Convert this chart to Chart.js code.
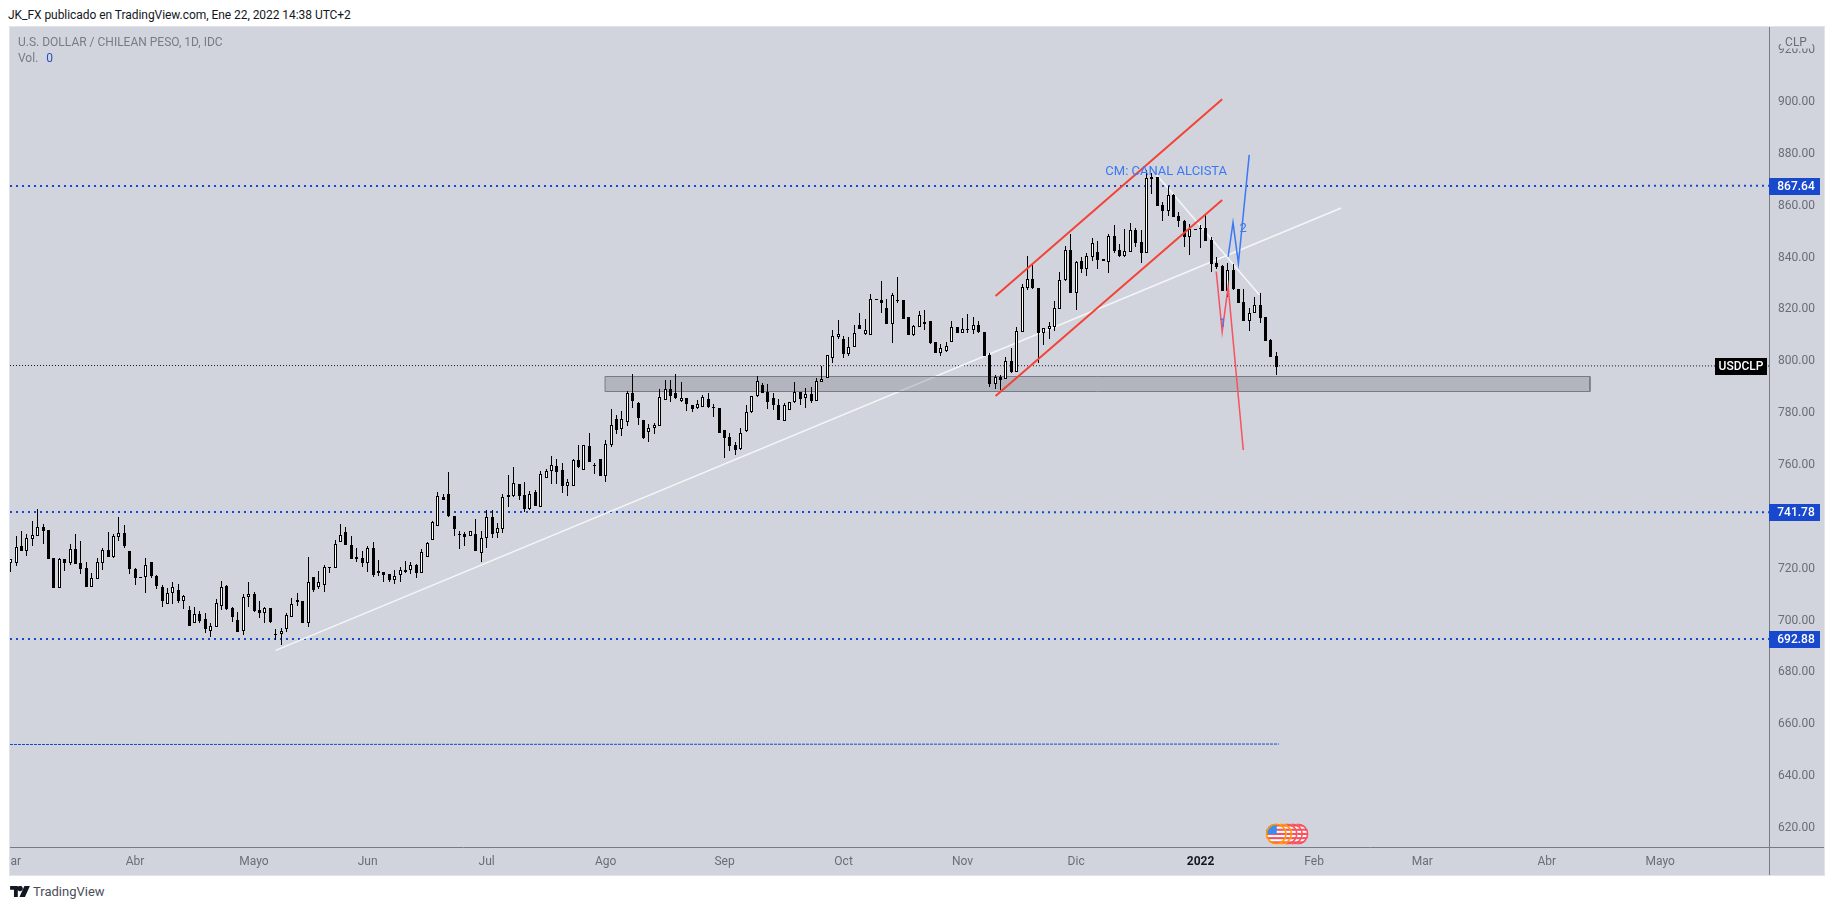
<!DOCTYPE html>
<html>
<head>
<meta charset="utf-8">
<title>USDCLP</title>
<script src="https://cdn.jsdelivr.net/npm/chart.js@4"></script>
<style>
    html, body { margin: 0; padding: 0; background: #fff; overflow: hidden; }
    body { width: 1834px; height: 910px; position: relative; font-family: Roboto, sans-serif; }
    #myChart { position: absolute; left: 10px; top: 27px; box-shadow: 0 0 0 1px #e0e3eb; }
    .txt { position: absolute; white-space: nowrap; font-size: 12px; line-height: 14px; }
    #publisher { left: 8px; top: 8px; color: #131722; letter-spacing: -0.05px; }
    #symbol { left: 18px; top: 35px; color: #787b86; }
    #vol { left: 18px; top: 51px; color: #787b86; }
    #vol span { color: #2a4fc0; margin-left: 8px; }
    #brand { left: 33px; top: 884px; color: #4a4e5b; font-size: 13px; line-height: 16px; }
    #logo { position: absolute; left: 10px; top: 886px; }
</style>
</head>
<body>
<div class="txt" id="publisher">JK_FX publicado en TradingView.com, Ene 22, 2022 14:38 UTC+2</div>
<canvas id="myChart" width="1814" height="848"></canvas>
<div class="txt" id="symbol">U.S. DOLLAR / CHILEAN PESO, 1D, IDC</div>
<div class="txt" id="vol">Vol.<span>0</span></div>
<svg id="logo" width="20" height="11" viewBox="0 0 36 20"><path fill="#131722" d="M0 0h14v20H7V7H0zM26 0h10l-9 20H17zM16 0a5 5 0 1 1 0 9a5 5 0 0 1 0-9z"/></svg>
<div class="txt" id="brand">TradingView</div>
<script>
// daily candles, one row = 10 sessions (first one 1 Mar 2021)
const highs = [
    723.7,732.6,734.6,733.4,738.4,742.9,737.3,735.0,724.1,724.0,
    723.6,729.5,733.4,730.7,722.5,718.2,724.1,728.1,734.0,733.4,
    740.0,736.9,726.8,720.4,717.0,724.0,722.5,717.6,713.6,712.4,
    714.8,714.0,709.9,705.6,705.4,703.8,702.8,698.9,708.2,715.3,
    713.6,705.2,703.5,710.1,714.9,710.9,707.7,705.2,704.7,696.8,
    697.2,702.8,708.6,710.5,707.6,724.4,716.8,719.1,721.4,720.5,
    731.1,737.3,736.0,732.6,727.9,727.0,728.6,730.3,723.4,718.9,
    718.0,719.5,720.5,723.0,722.7,721.8,727.6,730.2,738.3,749.5,
    748.7,757.2,740.3,734.7,734.3,734.4,739.1,734.6,742.7,742.5,
    737.5,748.8,756.2,759.1,752.7,753.5,749.9,750.2,757.7,758.3,
    763.5,762.2,760.7,754.5,762.2,767.7,767.6,772.4,760.7,762.3,
    769.7,781.6,779.3,780.8,788.5,795.1,784.2,777.4,775.8,776.3,
    789.3,792.8,792.8,795.1,792.0,785.7,783.1,785.1,787.0,787.6,
    783.4,781.9,773.4,772.3,769.0,774.1,783.1,786.7,794.3,791.5,
    791.1,787.6,785.4,784.0,784.4,792.0,788.3,789.6,790.0,793.4,
    798.2,802.3,812.0,815.9,809.7,809.2,814.0,818.5,816.3,825.9,
    823.9,830.9,824.0,826.2,832.4,823.5,816.9,814.1,819.4,819.8,
    815.5,807.3,806.7,807.6,815.5,813.1,816.6,818.1,817.2,815.7,
    811.2,803.1,794.9,794.7,801.5,805.0,813.1,829.7,840.6,837.8,
    828.3,812.9,815.1,823.3,834.5,844.5,849.1,838.7,840.4,841.9,
    847.4,846.5,839.4,849.0,852.6,845.1,851.0,853.2,851.3,850.6,
    873.8,872.7,871.2,861.6,867.6,864.5,857.7,854.5,853.0,851.0,
    852.6,856.4,847.8,840.1,837.1,837.8,837.4,827.8,827.8,820.4,
    824.7,826.2,816.9,808.5,803.6
];
const lows = [
    718.9,721.1,727.0,724.9,728.9,732.6,729.5,723.9,712.7,712.7,
    719.1,721.4,721.8,718.0,713.1,713.1,716.2,719.5,724.7,724.3,
    730.7,728.1,718.0,713.7,716.6,710.8,716.6,712.1,705.4,706.5,
    706.3,706.9,704.6,698.1,699.0,699.2,695.1,693.8,697.7,704.1,
    704.2,699.6,695.6,694.6,705.1,703.3,701.1,699.2,699.1,692.5,
    690.6,695.5,701.5,705.8,699.2,697.7,711.2,712.1,711.2,718.5,
    720.4,730.4,729.2,723.8,722.7,720.8,718.9,716.7,717.3,715.0,
    714.9,714.1,715.0,718.5,718.0,716.6,718.5,724.5,731.2,736.6,
    746.5,740.1,732.6,727.6,728.8,732.5,726.9,722.7,728.1,731.7,
    732.0,733.9,743.9,747.5,746.5,742.0,742.7,744.2,744.0,755.1,
    752.7,752.7,749.3,748.1,752.0,758.7,758.2,761.2,756.5,755.8,
    753.6,767.1,772.0,771.2,775.2,782.1,775.4,770.0,769.0,771.9,
    775.2,785.1,784.4,785.4,784.4,780.8,780.6,781.7,782.2,782.1,
    778.6,772.3,762.8,765.5,763.9,765.8,772.9,780.2,786.4,787.6,
    781.7,781.2,777.4,777.1,781.2,784.0,783.1,782.1,784.0,784.8,
    792.1,793.7,799.5,808.4,801.4,802.0,805.6,812.4,810.3,810.3,
    823.8,818.7,814.5,807.2,822.3,816.4,810.3,809.8,813.3,812.1,
    806.5,803.3,802.2,803.7,807.6,811.0,810.8,810.8,810.5,810.8,
    801.9,790.2,789.3,788.9,793.0,795.6,796.0,811.4,827.5,827.7,
    799.5,806.2,808.7,811.7,820.3,831.1,826.5,819.8,833.9,832.9,
    838.8,835.7,838.6,834.2,841.9,840.1,840.4,842.3,844.2,838.0,
    841.9,864.5,860.0,854.2,856.0,855.8,851.9,843.9,841.1,850.9,
    843.8,846.5,834.6,835.5,827.2,824.9,827.5,822.6,815.7,811.7,
    818.8,814.6,807.9,801.8,794.7
];
const bodyTops = [
    723.7,728.5,728.8,731.7,732.9,736.0,736.0,735.0,724.1,723.8,
    723.6,727.5,727.5,722.1,720.3,716.3,722.5,727.1,727.1,732.5,
    733.7,733.7,726.8,719.9,717.0,721.3,722.5,717.1,713.0,710.5,
    713.1,711.8,709.4,704.1,702.4,702.4,700.5,697.8,706.7,713.1,
    713.3,704.7,700.1,709.0,710.1,710.3,704.0,704.7,704.7,694.7,
    696.1,702.0,706.5,707.8,707.6,714.8,716.7,714.8,720.5,720.5,
    729.4,733.1,734.2,729.2,724.4,724.1,728.0,728.0,719.0,718.8,
    717.8,717.1,719.4,719.4,721.3,721.3,726.3,729.8,738.0,747.9,
    747.8,748.7,740.3,733.3,733.3,734.4,733.4,731.7,739.8,739.8,
    735.6,747.5,748.6,752.9,752.7,748.3,749.0,749.5,756.4,757.6,
    759.9,759.6,758.1,753.3,761.8,761.8,767.6,767.3,760.0,762.3,
    768.0,775.3,777.8,777.6,787.7,787.7,783.8,777.4,774.3,775.3,
    786.1,789.2,789.2,787.6,785.7,785.7,783.1,783.5,786.2,785.4,
    782.2,781.9,773.4,770.8,767.7,772.2,780.3,786.7,792.5,790.9,
    788.2,785.8,783.1,783.0,784.2,788.3,788.0,787.3,787.4,792.3,
    793.0,802.3,809.6,810.4,808.6,805.4,810.8,813.9,811.9,823.9,
    823.9,823.5,820.4,825.4,823.5,823.5,816.9,813.5,817.9,815.2,
    815.5,807.3,805.0,805.8,813.1,813.1,812.3,812.3,813.9,813.9,
    811.2,802.4,793.8,793.9,800.0,800.1,811.5,828.7,831.6,831.6,
    828.3,812.7,813.6,820.4,831.2,842.9,842.9,838.4,838.5,840.6,
    845.5,842.0,839.4,848.3,848.3,842.9,842.4,850.5,850.6,846.0,
    870.6,870.9,871.2,860.3,864.0,864.3,856.0,854.1,850.9,851.0,
    851.3,851.3,846.8,837.8,836.8,835.2,835.2,827.8,822.9,818.8,
    821.6,821.7,816.9,808.2,802.0
];
const bodyBottoms = [
    722.3,722.3,727.0,727.0,731.6,732.8,734.7,723.9,712.7,712.7,
    722.3,722.3,722.0,720.0,713.1,713.1,716.2,722.3,724.7,724.5,
    732.4,728.8,720.0,716.6,716.6,717.0,717.3,713.5,707.7,706.5,
    710.5,707.7,707.7,698.1,699.0,700.0,696.6,696.1,697.7,705.6,
    704.6,701.3,695.6,696.1,709.0,703.8,703.1,703.1,699.3,694.3,
    694.7,696.6,701.5,707.3,699.2,699.2,711.9,713.0,713.9,720.4,
    720.4,730.4,729.3,723.8,723.8,722.2,722.3,717.6,718.5,717.7,
    715.7,715.8,717.7,718.9,719.6,718.5,718.5,724.7,731.2,736.6,
    746.5,740.5,735.5,733.0,732.4,732.5,727.0,726.2,732.0,733.5,
    733.7,735.5,747.5,748.2,748.1,743.0,742.9,744.2,744.0,755.1,
    757.6,757.3,752.0,752.0,752.0,759.4,758.2,761.2,759.8,755.8,
    755.9,767.9,773.5,774.0,776.7,784.8,778.2,770.4,772.9,774.1,
    775.2,785.2,786.7,785.7,784.7,783.7,781.6,781.9,782.5,782.2,
    781.9,772.3,770.4,767.3,765.8,766.0,773.0,780.3,786.7,787.9,
    784.4,783.1,777.4,777.1,781.3,784.2,785.6,785.7,784.8,784.8,
    792.1,793.7,801.4,809.4,802.9,802.9,805.6,812.6,810.5,810.3,
    823.8,822.6,814.5,814.5,823.2,816.4,810.3,810.3,813.3,814.5,
    807.2,803.3,803.3,804.1,807.6,811.0,811.0,812.1,812.2,811.2,
    801.9,791.2,791.4,792.8,793.0,796.0,796.0,811.4,828.4,828.3,
    811.0,811.0,812.6,813.3,820.3,831.2,826.5,826.5,835.7,835.7,
    840.4,839.1,838.6,838.4,842.5,840.6,840.6,842.3,845.8,841.9,
    841.9,870.4,860.0,858.1,858.1,855.8,854.0,848.1,848.1,850.9,
    850.9,846.5,837.5,836.4,827.2,827.2,827.8,822.6,815.7,815.7,
    818.8,816.8,807.9,801.8,797.9
];
// U = close above open (white candle), D = close below open (black candle)
const directions = (
    "UUDUUUDDDU" + "DUDDDUUUDU" + "UDDDDUDDDU" + "UDUDUDDUUU" + "DDDUUDDUDD" +
    "UUUDDUDUUD" + "UUDDDDUDDD" + "DUUDUDUUUU" + "DDDDDUDUUD" + "UUUUDDUDUU" +
    "UDDUUDUDDD" + "UUDUUDDDUU" + "UUDDUDDUUD" + "DDDDDUUUUD" + "DDDUUUDUDU" +
    "UUUUDUUDUU" + "DDDUDDDUUD" + "DDUUUDUDUD" + "DDUDUDUUUD" + "DUUUUUDUDU" +
    "UDDUDDUUDD" + "UDDDUDDDUD" + "DDDDDUDDDU" + "UDDDD"
).split("");

// axes
const priceTicks = [620,640,660,680,700,720,740,760,780,800,820,840,860,880,900,920];
const monthBars = [0,23,45,66,88,110,132,154,176,197,220,241,261,284,305];
const monthLabels = ["Mar","Abr","Mayo","Jun","Jul","Ago","Sep","Oct","Nov","Dic","2022","Feb","Mar","Abr","Mayo"];

// horizontal levels
const levelPrices = [867.64, 741.78, 692.88];
const lastPrice = 798.2;
const lowerDashedPrice = 652.4;
const lowerDashedEndBar = 234.5;

// support zone
const zoneBars = [109.9, 292];
const zonePrices = [794.3, 788.5];

// hand drawn lines: [bar, price] pairs
const channelUpper = [[182.1, 825.2], [224, 901.0]];
const channelLower = [[182.1, 786.6], [224, 862.2]];
const whiteTrend = [[49, 688.5], [246, 859.1]];
const whiteFall = [[211.9, 871.8], [230.9, 825.6]];
const blueWave = [[225.1, 840.3], [226, 853.5], [227, 837.8], [229, 879.6]];
const redWave = [[222.9, 834.6], [224, 811.4], [225.1, 828.8], [227.9, 765.8]];

// text notes on the chart
const noteTexts = ["CM: CANAL ALCISTA", "1", "2"];
const noteBars = [202.4, 223.4, 227.2];
const notePrices = [873.0, 814.4, 851.0];

// economic calendar icons
const eventBars = [234, 235, 236, 237, 238];

const xMin = -0.12, xMax = 325.1;
const yMin = 612.7, yMax = 928.9;

function toPoints(pairs){
    return pairs.map(p => ({x: p[0], y: p[1]}));
}

function lineSet(pairs, color, width, order, dash){
    return {
        type: 'line',
        data: toPoints(pairs),
        borderColor: color,
        borderWidth: width,
        borderDash: dash || [],
        pointRadius: 0,
        fill: false,
        tension: 0,
        order: order
    };
}

function bodySet(dir, bg, border, order){
    var points = [];
    directions.forEach(function(d, i){
        if (d == dir) points.push({x: i, y: [bodyBottoms[i], bodyTops[i]]});
    });
    return {
        type: 'bar',
        data: points,
        backgroundColor: bg,
        borderColor: border,
        borderWidth: border ? 1 : 0,
        borderSkipped: false,
        inflateAmount: 0,
        barThickness: 3,
        grouped: false,
        order: order
    };
}

// snap candles and flat lines on whole pixels, otherwise they come out grey
const snapCandles = {
    id: 'snapCandles',
    afterDatasetsUpdate(chart){
        chart.getSortedVisibleDatasetMetas().forEach(function(meta){
            if (meta.type == 'bar') {
                meta.data.forEach(function(el){
                    el.x = Math.floor(el.x) + 0.5;
                    var top = Math.round(Math.min(el.y, el.base));
                    var bottom = Math.round(Math.max(el.y, el.base));
                    if (bottom <= top) bottom = top + 1;
                    el.y = top;
                    el.base = bottom;
                    el.height = bottom - top;
                });
                return;
            }
            var width = chart.data.datasets[meta.index].borderWidth;
            meta.data.forEach(function(pt, i){
                var next = meta.data[i + 1] || meta.data[i - 1];
                var flat = next && Math.abs(next.y - pt.y) < 0.001;
                if (flat || (meta.data.length == 5)) {
                    pt.y = width % 2 ? Math.floor(pt.y) + 0.5 : Math.round(pt.y);
                }
            });
        });
    }
};

function drawFlag(ctx, cx, cy, ring, withCanton){
    var r = 10.5;
    ctx.save();
    ctx.beginPath();
    ctx.arc(cx, cy, r, 0, Math.PI * 2);
    ctx.fillStyle = '#ffffff';
    ctx.fill();
    ctx.clip();
    ctx.fillStyle = '#f7525f';
    for (var i = 0; i < 5; i++) ctx.fillRect(cx - r, cy - r + 1 + i * 4.2, r * 2, 2.1);
    if (withCanton) {
        ctx.fillStyle = '#3d8bf0';
        ctx.fillRect(cx - r, cy - r, r + 0.5, r);
    }
    ctx.restore();
    ctx.beginPath();
    ctx.arc(cx, cy, r - 0.8, 0, Math.PI * 2);
    ctx.lineWidth = 1.6;
    ctx.strokeStyle = ring;
    ctx.stroke();
}

const overlays = {
    id: 'overlays',
    afterDatasetsDraw(chart){
        const ctx = chart.ctx, x = chart.scales.x, y = chart.scales.y;
        ctx.save();
        ctx.fillStyle = '#3b78f5';
        ctx.font = '13px Roboto';
        ctx.textAlign = 'left';
        ctx.textBaseline = 'middle';
        noteTexts.forEach(function(t, i){
            ctx.fillText(t, x.getPixelForValue(noteBars[i]), y.getPixelForValue(notePrices[i]));
        });
        for (var i = eventBars.length - 1; i >= 0; i--) {
            drawFlag(ctx, x.getPixelForValue(eventBars[i]), y.bottom - 13, i < 2 ? '#ff9800' : '#f7525f', i == 0);
        }
        ctx.restore();
    },
    afterDraw(chart){
        const ctx = chart.ctx, y = chart.scales.y, area = chart.chartArea;
        ctx.save();
        // axis frame runs through to the canvas edges
        ctx.strokeStyle = '#787b86';
        ctx.lineWidth = 1;
        ctx.beginPath();
        ctx.moveTo(area.right + 0.5, 0);
        ctx.lineTo(area.right + 0.5, chart.height);
        ctx.moveTo(0, area.bottom + 0.5);
        ctx.lineTo(chart.width, area.bottom + 0.5);
        ctx.stroke();

        ctx.textAlign = 'center';
        ctx.textBaseline = 'middle';
        ctx.font = '12px Roboto';

        // currency label sits on top of the highest tick
        ctx.fillStyle = '#d1d4dc';
        ctx.fillRect(area.right + 12, 0, 31, 21.5);
        ctx.fillStyle = '#6a6d78';
        ctx.fillText('CLP', area.right + 27, 16);

        // level tags on the price axis
        ctx.font = '500 12px Roboto';
        levelPrices.forEach(function(p){
            var py = Math.round(y.getPixelForValue(p));
            ctx.fillStyle = '#1848cc';
            ctx.fillRect(area.right, py - 8, 51, 17);
            ctx.fillStyle = '#ffffff';
            ctx.fillText(p.toFixed(2), area.right + 27, py + 1);
        });

        // symbol tag left of the axis
        var ly = Math.round(y.getPixelForValue(lastPrice));
        ctx.fillStyle = '#000000';
        ctx.fillRect(area.right - 54, ly - 8, 52, 17);
        ctx.fillStyle = '#ffffff';
        ctx.fillText('USDCLP', area.right - 28, ly + 1);
        ctx.restore();
    }
};

const datasets = [
    lineSet([[xMin, levelPrices[0]], [xMax, levelPrices[0]]], '#1848cc', 2, 20, [2, 4]),
    lineSet([[xMin, levelPrices[1]], [xMax, levelPrices[1]]], '#1848cc', 2, 20, [2, 4]),
    lineSet([[xMin, levelPrices[2]], [xMax, levelPrices[2]]], '#1848cc', 2, 20, [2, 4]),
    lineSet([[xMin, lastPrice], [xMax, lastPrice]], '#131722', 1, 20, [1, 2]),
    lineSet([[xMin, lowerDashedPrice], [lowerDashedEndBar, lowerDashedPrice]], '#1848cc', 1, 20, [3, 1]),
    lineSet(whiteTrend, '#f5f6f8', 1.5, 12),
    lineSet(whiteFall, '#f5f6f8', 1.5, 12),
    // zone: top edge filled down to bottom edge, then the outline
    Object.assign(lineSet([[zoneBars[0], zonePrices[0]], [zoneBars[1], zonePrices[0]]], 'rgba(0,0,0,0)', 0, 10), {
        fill: {target: {value: zonePrices[1]}},
        backgroundColor: 'rgba(120,123,134,0.35)'
    }),
    lineSet([[zoneBars[0], zonePrices[0]], [zoneBars[1], zonePrices[0]], [zoneBars[1], zonePrices[1]],
             [zoneBars[0], zonePrices[1]], [zoneBars[0], zonePrices[0]]], '#787b86', 1, 9),
    {
        type: 'bar',
        data: highs.map((h, i) => ({x: i, y: [lows[i], h]})),
        backgroundColor: '#000000',
        borderWidth: 0,
        inflateAmount: 0,
        barThickness: 1,
        grouped: false,
        order: 8
    },
    bodySet('U', '#ffffff', '#000000', 7),
    bodySet('D', '#000000', null, 7),
    lineSet(channelUpper, '#f44336', 2, 5),
    lineSet(channelLower, '#f44336', 2, 5),
    lineSet(redWave, '#f7525f', 1.5, 4),
    lineSet(blueWave, '#3b78f5', 1.5, 3)
];

new Chart(document.getElementById('myChart'), {
    type: 'bar',
    data: {datasets: datasets},
    plugins: [snapCandles, overlays, {
        id: 'plotBg',
        beforeDraw(chart){
            chart.ctx.fillStyle = '#d1d4dc';
            chart.ctx.fillRect(0, 0, chart.width, chart.height);
        }
    }],
    options: {
        responsive: false,
        animation: false,
        events: [],
        layout: {autoPadding: false, padding: 0},
        plugins: {legend: {display: false}, tooltip: {enabled: false}},
        scales: {
            x: {
                type: 'linear',
                offset: false,
                min: xMin,
                max: xMax,
                grid: {display: false, drawTicks: false, offset: false},
                border: {display: false},
                afterBuildTicks(axis){
                    axis.ticks = monthBars.map(v => ({value: v}));
                },
                afterFit(axis){
                    axis.height = 28;
                    axis.paddingLeft = 0;
                    axis.paddingRight = 0;
                },
                ticks: {
                    autoSkip: false,
                    maxRotation: 0,
                    padding: 8,
                    color: ctx => monthLabels[ctx.index] == '2022' ? '#131722' : '#6a6d78',
                    font: ctx => ({family: 'Roboto', size: 12, weight: monthLabels[ctx.index] == '2022' ? 'bold' : 'normal'}),
                    callback: (value, i) => monthLabels[i]
                }
            },
            y: {
                position: 'right',
                min: yMin,
                max: yMax,
                grid: {display: false, drawTicks: false},
                border: {display: false},
                afterBuildTicks(axis){
                    axis.ticks = priceTicks.map(v => ({value: v}));
                },
                afterFit(axis){
                    axis.width = 55;
                    axis.paddingTop = 0;
                    axis.paddingBottom = 0;
                },
                ticks: {
                    padding: 9,
                    color: '#6a6d78',
                    font: {family: 'Roboto', size: 12},
                    callback: value => value.toFixed(2)
                }
            }
        }
    }
});
</script>
</body>
</html>
